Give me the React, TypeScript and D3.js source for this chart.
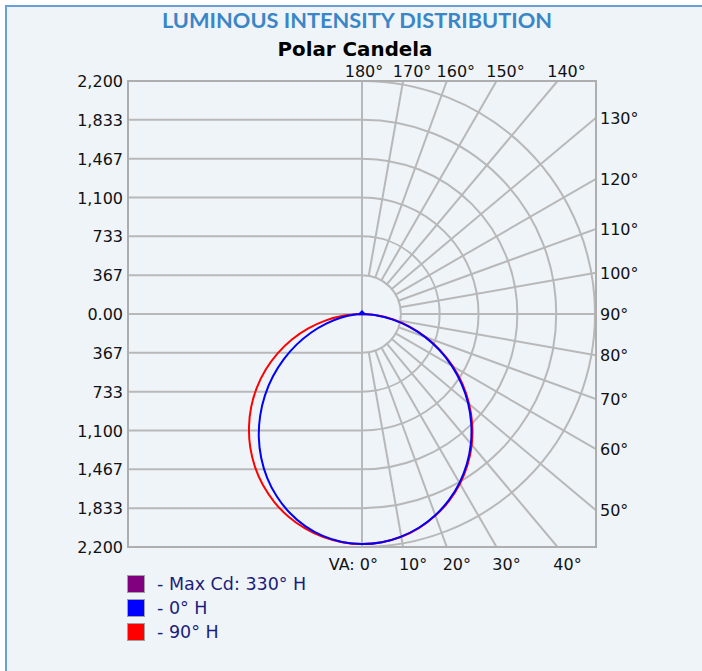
import React from 'react';
import * as d3 from 'd3';

// candela grid (one ring per tick)
const candelaTicks = [367, 733, 1100, 1467, 1833, 2200];
const candelaLabels = ['367', '733', '1,100', '1,467', '1,833', '2,200'];
const maxCandela = 2200;

// vertical angles (0 = nadir) for the measured planes
const verticalAngles = [0, 5, 10, 15, 20, 25, 30, 35, 40, 45, 50, 55, 60, 65, 70, 75, 80, 85, 90];
// 0° H plane (right) / 180° H plane (left)
const cd0H = [2172, 2163, 2134, 2087, 2022, 1940, 1841, 1727, 1599, 1458, 1307, 1146, 979, 807, 632, 459, 290, 131, 0];
const cd180H = [2172, 2161, 2128, 2073, 1997, 1902, 1789, 1659, 1516, 1360, 1196, 1026, 852, 679, 510, 350, 204, 81, 0];
// 90° H plane (right) / 270° H plane (left)
const cd90H = [2172, 2163, 2136, 2090, 2026, 1946, 1850, 1738, 1612, 1472, 1320, 1160, 992, 818, 642, 468, 300, 138, 0];
const cd270H = [2172, 2163, 2137, 2094, 2035, 1959, 1868, 1762, 1642, 1509, 1366, 1212, 1049, 879, 704, 525, 345, 168, 0];

// grid spokes and their labels
const spokeAngles = [0, 10, 20, 30, 40, 50, 60, 70, 80, 90, 100, 110, 120, 130, 140, 150, 160, 170, 180];

const legendItems = [
  { label: '- Max Cd: 330° H', color: '#800080' },
  { label: '- 0° H', color: '#0000ff' },
  { label: '- 90° H', color: '#ff0000' },
];

const W = 702;
const H = 671;
const cx = 362;
const cy = 314;
const R = 233;
const left = 128;
const right = cx + R + 1;
const top = cy - R;
const bottom = cy + R;

const gridColor = '#b8b8b8';
const tickFont = '"DejaVu Sans", Verdana, sans-serif';

const rad = (deg: number) => (deg * Math.PI) / 180;

export default function App() {
  const r = d3.scaleLinear().domain([0, maxCandela]).range([0, R]);

  // y for the candela axis on the left (mirrored about 0)
  const y = d3.scaleLinear().domain([-maxCandela, maxCandela]).range([bottom, top]);

  // lineRadial: angle 0 = up, clockwise. Vertical angle θ from nadir → π∓θ
  const curve = (leftVals: number[], rightVals: number[]) => {
    const pts: [number, number][] = [];
    for (let i = verticalAngles.length - 1; i >= 0; i--) {
      pts.push([Math.PI + rad(verticalAngles[i]), r(leftVals[i])]);
    }
    for (let i = 1; i < verticalAngles.length; i++) {
      pts.push([Math.PI - rad(verticalAngles[i]), r(rightVals[i])]);
    }
    return d3.lineRadial<[number, number]>()
      .angle(d => d[0])
      .radius(d => d[1])
      .curve(d3.curveCatmullRom)(pts) as string;
  };

  const ringPath = (v: number) => {
    const p = d3.path();
    const rr = r(v);
    p.moveTo(cx, cy - rr);
    p.arc(cx, cy, rr, -Math.PI / 2, Math.PI / 2);
    return p.toString();
  };

  const spokeEnd = (a: number) => {
    // a: vertical angle, 0 = down, 180 = up, right half
    const dx = Math.sin(rad(a));
    const dy = Math.cos(rad(a));
    let t = Infinity;
    if (dx > 1e-9) t = Math.min(t, (right - cx) / dx);
    if (dy > 1e-9) t = Math.min(t, (bottom - cy) / dy);
    if (dy < -1e-9) t = Math.min(t, (top - cy) / dy);
    return { x0: cx + dx * r(367), y0: cy + dy * r(367), x1: cx + dx * t, y1: cy + dy * t };
  };

  return (
    <svg width={W} height={H} viewBox={`0 0 ${W} ${H}`} style={{ position: 'absolute', left: 0, top: 0 }}>
      <defs>
        <clipPath id="plotClip">
          <rect x={left} y={top} width={right - left} height={bottom - top} />
        </clipPath>
      </defs>
      <rect x={0} y={0} width={W} height={H} fill="#ffffff" />
      <rect x={6} y={6} width={W} height={H} fill="#eff4f9" stroke="#6a9fd8" strokeWidth={2} />

      <text x={357} y={28} textAnchor="middle" fontFamily="Lato, 'Open Sans', sans-serif" fontWeight={700}
        fontSize={20} fill="#3a86c6" textLength={390} lengthAdjust="spacingAndGlyphs">
        LUMINOUS INTENSITY DISTRIBUTION
      </text>
      <text x={355} y={56} textAnchor="middle" fontFamily={tickFont} fontWeight={700}
        fontSize={20} fill="#000" textLength={155} lengthAdjust="spacingAndGlyphs">
        Polar Candela
      </text>

      {/* left half: horizontal candela lines */}
      <g stroke={gridColor} strokeWidth={2}>
        {candelaTicks.map(v => (
          <g key={v}>
            <line x1={left} x2={cx} y1={y(v)} y2={y(v)} />
            <line x1={left} x2={cx} y1={y(-v)} y2={y(-v)} />
          </g>
        ))}
        <line x1={left} x2={cx} y1={y(0)} y2={y(0)} />
        <line x1={cx} x2={cx} y1={top} y2={bottom} />
      </g>

      {/* right half: polar grid */}
      <g clipPath="url(#plotClip)" stroke={gridColor} strokeWidth={2} fill="none">
        {candelaTicks.map(v => <path key={v} d={ringPath(v)} />)}
        {spokeAngles.map(a => {
          const s = spokeEnd(a);
          return <line key={a} x1={s.x0} y1={s.y0} x2={s.x1} y2={s.y1} />;
        })}
      </g>

      <rect x={left} y={top} width={right - left} height={bottom - top} fill="none" stroke="#aeaeae" strokeWidth={2} />

      {/* candela axis labels */}
      <g fontFamily={tickFont} fontSize={16} fill="#111" textAnchor="end">
        {candelaTicks.map((v, i) => (
          <g key={v}>
            <text x={left - 5} y={y(v) + 6}>{candelaLabels[i]}</text>
            <text x={left - 5} y={y(-v) + 6}>{candelaLabels[i]}</text>
          </g>
        ))}
        <text x={left - 5} y={y(0) + 6}>0.00</text>
      </g>

      {/* angle labels */}
      <g fontFamily={tickFont} fontSize={16} fill="#111">
        {spokeAngles.map(a => {
          const s = spokeEnd(a);
          if (a === 0) {
            return <text key={a} x={cx + 16} y={bottom + 23} textAnchor="end">VA: 0°</text>;
          }
          if (s.y1 >= bottom - 0.5) {
            return <text key={a} x={s.x1 + 10} y={bottom + 23} textAnchor="middle">{a}°</text>;
          }
          if (s.y1 <= top + 0.5) {
            return <text key={a} x={s.x1 + (a === 180 ? 2 : 9)} y={top - 4} textAnchor="middle">{a}°</text>;
          }
          return <text key={a} x={right + 4} y={s.y1 + 6} textAnchor="start">{a}°</text>;
        })}
      </g>

      {/* candela curves */}
      <g transform={`translate(${cx},${cy})`} fill="none" strokeWidth={2}>
        <path d={curve(cd270H, cd90H)} stroke="#ff0000" />
        <path d={curve(cd180H, cd0H)} stroke="#0000ff" />
        <path d="M-4,0 L0,-4 L4,0 Z" fill="#0000ff" stroke="none" />
      </g>

      {/* legend */}
      <g fontFamily={tickFont} fontSize={17.5} fill="#1c1c7c">
        {legendItems.map((d, i) => (
          <g key={d.label} transform={`translate(127,${575 + i * 24})`}>
            <rect x={0.5} y={0.5} width={17} height={17} fill={d.color} stroke="#a0a0a0" strokeWidth={1} />
            <text x={30} y={15}>{d.label}</text>
          </g>
        ))}
      </g>
    </svg>
  );
}
